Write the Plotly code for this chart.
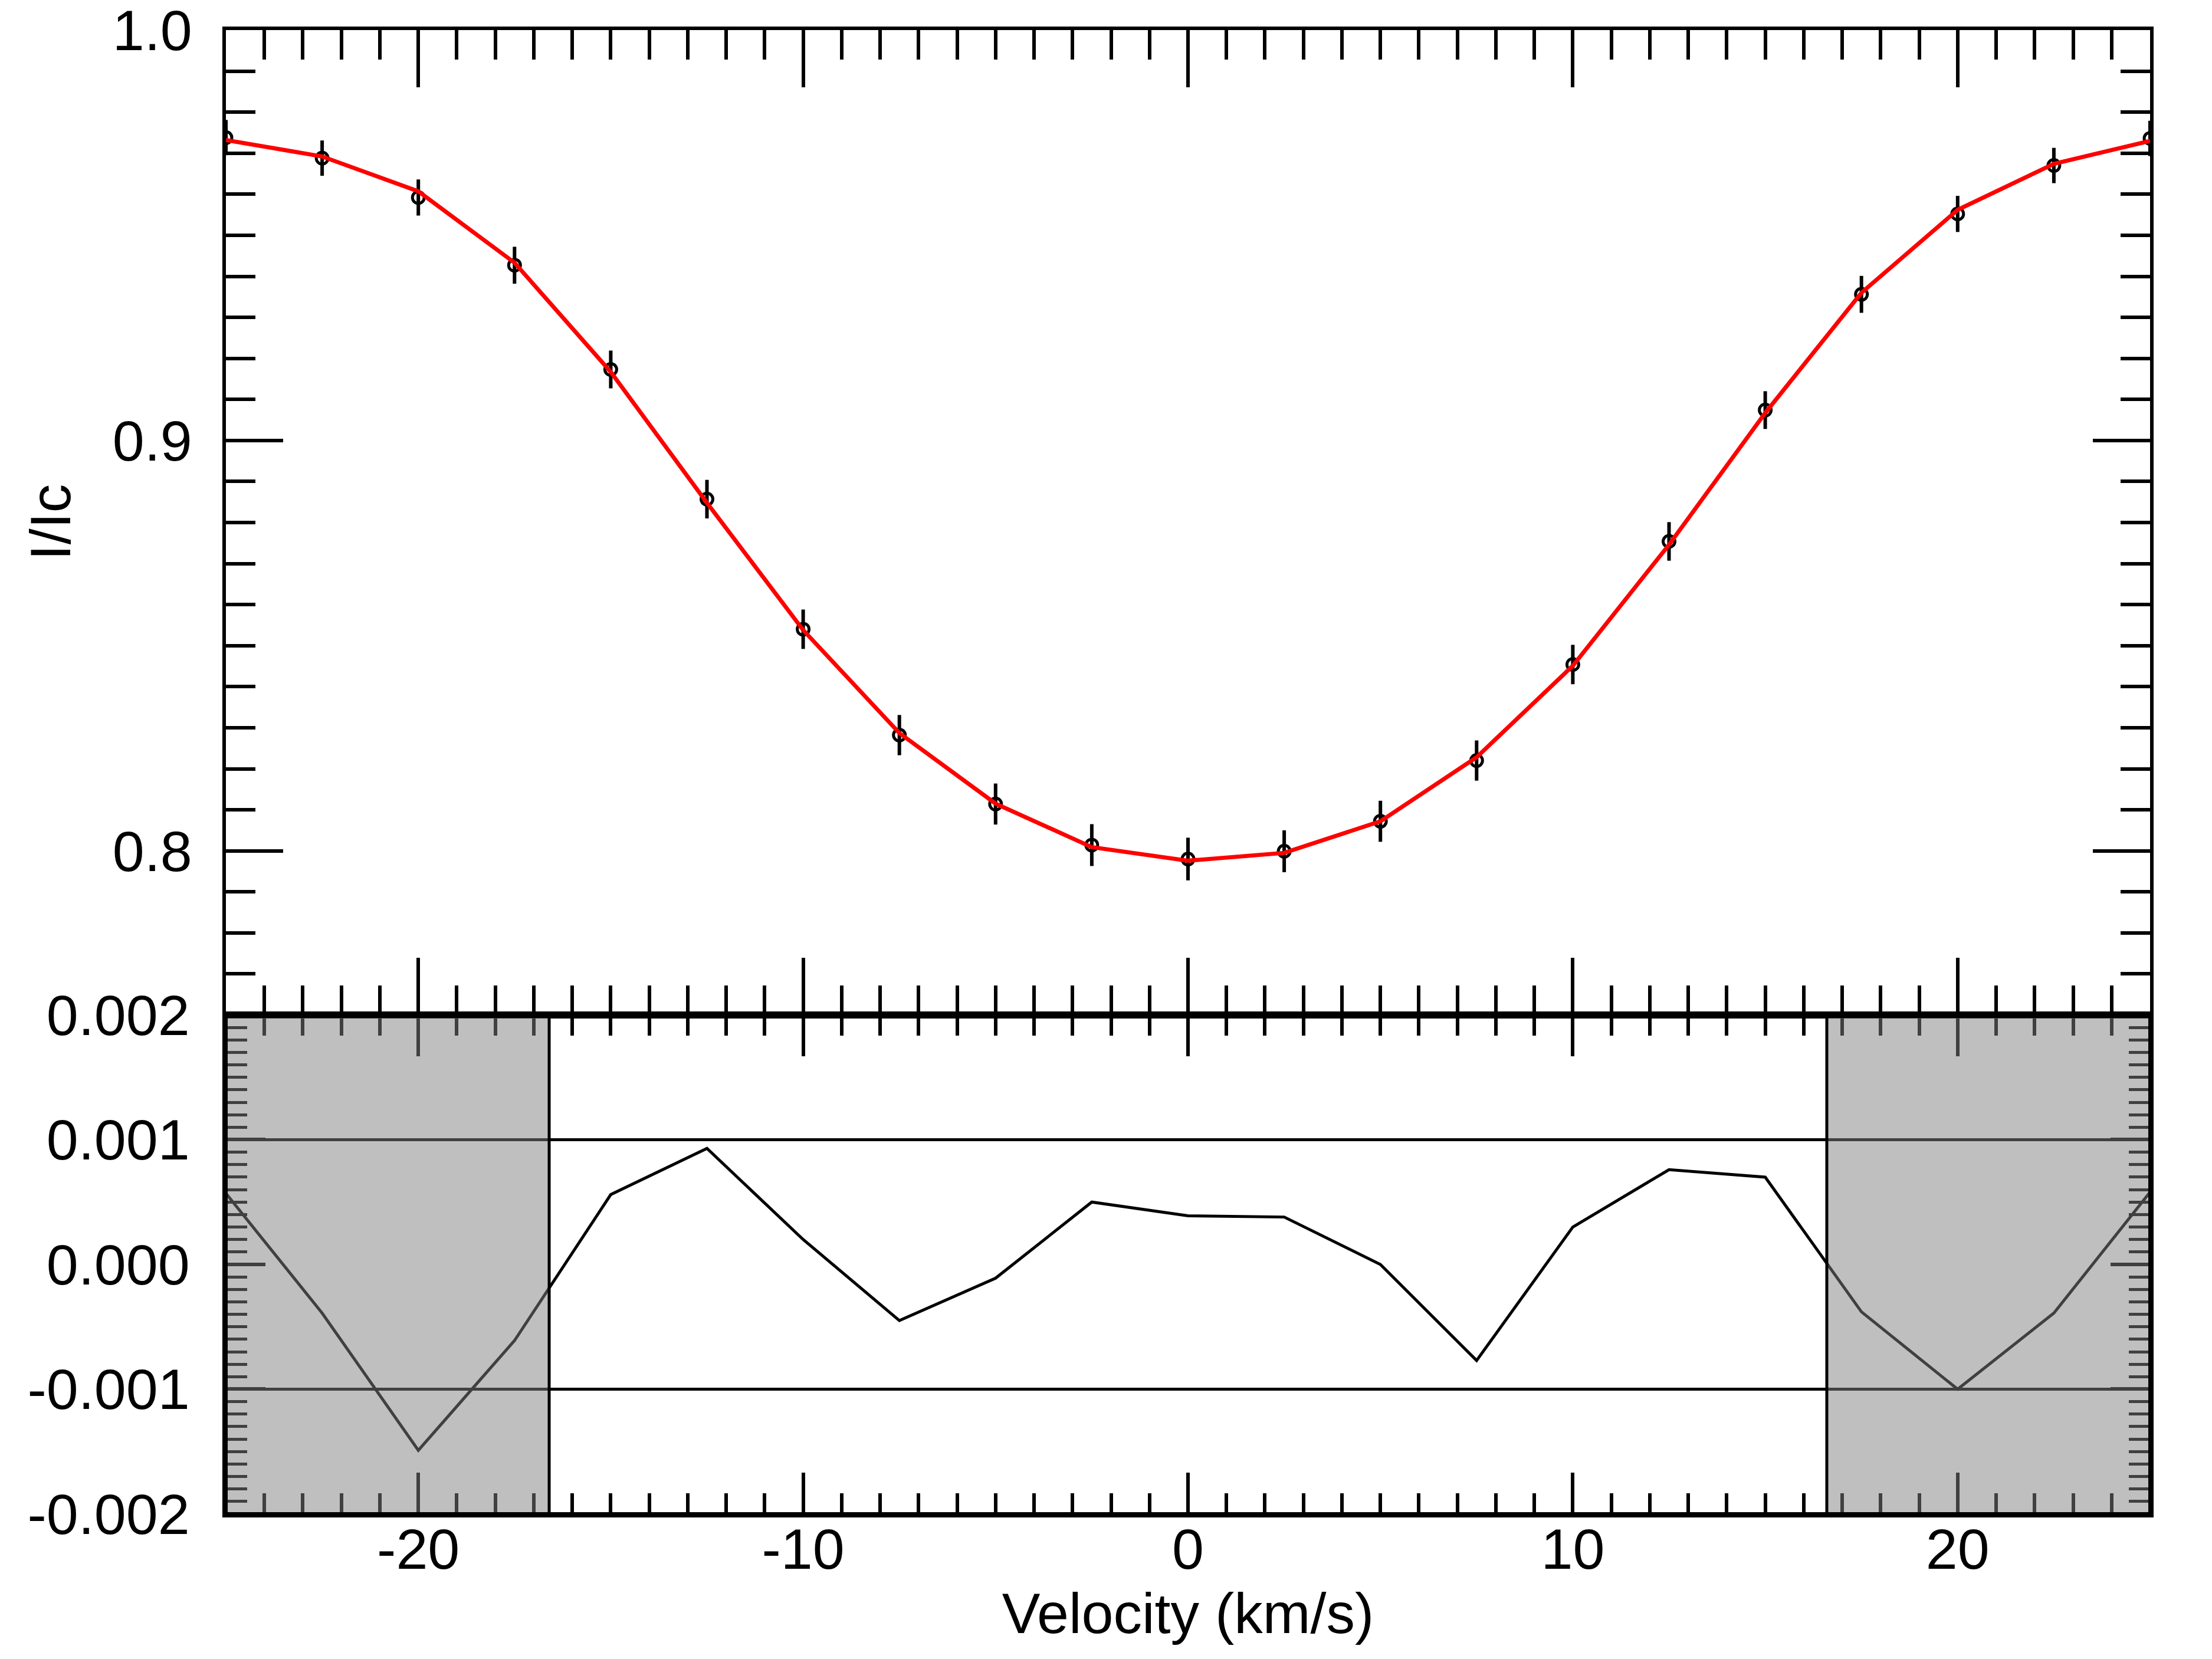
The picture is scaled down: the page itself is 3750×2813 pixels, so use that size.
import plotly.graph_objects as go

# velocity grid of the LSD profile (km/s)
VELOCITY = [-25, -22.5, -20, -17.5, -15, -12.5, -10, -7.5, -5, -2.5, 0,
            2.5, 5, 7.5, 10, 12.5, 15, 17.5, 20, 22.5, 25]

# observed Stokes I profile and its errors
I_OBS = [0.9738, 0.9688, 0.9592, 0.9427, 0.9173, 0.8857, 0.8540, 0.8282,
         0.8114, 0.8014, 0.7980, 0.7999, 0.8072, 0.8220, 0.8454, 0.8754,
         0.9074, 0.9356, 0.9552, 0.9670, 0.9736]
I_ERR = [0.0043, 0.0043, 0.0044, 0.0045, 0.0046, 0.0047, 0.0048, 0.0049,
         0.0050, 0.0051, 0.0052, 0.0051, 0.0050, 0.0049, 0.0048, 0.0047,
         0.0046, 0.0045, 0.0044, 0.0043, 0.0043]

# model fit (red)
I_MODEL = [0.9732, 0.9692, 0.9607, 0.9433, 0.9167, 0.8848, 0.8538, 0.8287,
           0.8115, 0.8009, 0.7976, 0.7995, 0.8072, 0.8228, 0.8451, 0.8746,
           0.9067, 0.9360, 0.9562, 0.9674, 0.9730]

# residuals obs - model
RESID = [0.00057, -0.00039, -0.00149, -0.00061, 0.00056, 0.00093, 0.00020,
         -0.00045, -0.00011, 0.00050, 0.00039, 0.00038, 0.00000, -0.00077,
         0.00030, 0.00076, 0.00070, -0.00038, -0.00100, -0.00039, 0.00058]

RESID_LIMITS = [-0.001, 0.001]
MASK_EDGES = [-16.6, 16.6]
V_RANGE = [-25, 25]

X_TICKS = [-20, -10, 0, 10, 20]
X_LABELS = ["-20", "-10", "0", "10", "20"]
Y1_TICKS = [0.8, 0.9, 1.0]
Y1_LABELS = ["0.8", "0.9", "1.0"]
Y2_TICKS = [-0.002, -0.001, 0.0, 0.001, 0.002]
Y2_LABELS = ["-0.002", "-0.001", "0.000", "0.001", "0.002"]

FONT = "Liberation Sans, Arial, Helvetica, sans-serif"
SPLIT = 0.33625

fig = go.Figure()

fig.add_trace(go.Scatter(
    x=VELOCITY, y=I_OBS, mode="markers",
    marker=dict(symbol="circle-open", size=20, color="black",
                line=dict(width=5, color="black")),
    error_y=dict(type="data", array=I_ERR, visible=True,
                 thickness=6, width=0, color="black"),
    xaxis="x", yaxis="y", showlegend=False))

fig.add_trace(go.Scatter(
    x=VELOCITY, y=I_MODEL, mode="lines",
    line=dict(color="#ff0000", width=7),
    xaxis="x", yaxis="y", showlegend=False))

fig.add_trace(go.Scatter(
    x=VELOCITY, y=RESID, mode="lines",
    line=dict(color="black", width=5),
    xaxis="x2", yaxis="y2", showlegend=False))

axis_common = dict(showline=True, linecolor="black", linewidth=6,
                   mirror="allticks", ticks="inside", tickcolor="black",
                   tickwidth=6, showgrid=False, zeroline=False,
                   automargin=False, ticklabeloverflow="allow",
                   tickfont=dict(family=FONT, size=97, color="black"))

fig.update_layout(
    width=3750, height=2813,
    margin=dict(l=375, r=113, t=43, b=254),
    paper_bgcolor="white", plot_bgcolor="white",
    font=dict(family=FONT, size=97, color="black"),
    xaxis=dict(axis_common, anchor="y", range=V_RANGE, domain=[0, 1],
               tickmode="array", tickvals=X_TICKS, ticktext=X_LABELS,
               showticklabels=False, ticklen=97,
               minor=dict(ticks="inside", dtick=1, tick0=0, ticklen=50,
                          tickwidth=6, tickcolor="black")),
    yaxis=dict(axis_common, anchor="x", range=[0.76, 1.0], domain=[SPLIT, 1],
               tickmode="array", tickvals=Y1_TICKS, ticktext=Y1_LABELS,
               ticklen=97, ticklabelstandoff=32,
               minor=dict(ticks="inside", dtick=0.01, tick0=0, ticklen=50,
                          tickwidth=6, tickcolor="black")),
    xaxis2=dict(axis_common, anchor="y2", range=V_RANGE, domain=[0, 1],
                tickmode="array", tickvals=X_TICKS, ticktext=X_LABELS,
                ticklen=70, ticklabelstandoff=-29,
                minor=dict(ticks="inside", dtick=1, tick0=0, ticklen=35,
                           tickwidth=6, tickcolor="black"),
                title=dict(text="Velocity (km/s)", standoff=10,
                           font=dict(family=FONT, size=97, color="black"))),
    yaxis2=dict(axis_common, anchor="x2", range=[-0.002, 0.002],
                domain=[0, SPLIT],
                tickmode="array", tickvals=Y2_TICKS, ticktext=Y2_LABELS,
                ticklen=67, ticklabelstandoff=36,
                minor=dict(ticks="inside", dtick=0.0001, tick0=0, ticklen=36,
                           tickwidth=5, tickcolor="black")),
)

# y title of the upper panel, centred on that panel
fig.add_annotation(text="I/Ic", textangle=-90, xref="paper", yref="paper",
                   x=-0.091, xanchor="center", y=(1 + SPLIT) / 2,
                   yanchor="middle", showarrow=False,
                   font=dict(family=FONT, size=97, color="black"))

# residual tolerance lines
for lim in RESID_LIMITS:
    fig.add_shape(type="line", xref="x2 domain", yref="y2", x0=0, x1=1,
                  y0=lim, y1=lim, line=dict(color="black", width=5),
                  layer="below")

# grey masks over the line wings
fig.add_shape(type="rect", xref="x2", yref="y2 domain",
              x0=V_RANGE[0], x1=MASK_EDGES[0], y0=0, y1=1,
              fillcolor="rgba(127,127,127,0.5)", line=dict(width=0),
              layer="above")
fig.add_shape(type="rect", xref="x2", yref="y2 domain",
              x0=MASK_EDGES[1], x1=V_RANGE[1], y0=0, y1=1,
              fillcolor="rgba(127,127,127,0.5)", line=dict(width=0),
              layer="above")
for edge in MASK_EDGES:
    fig.add_shape(type="line", xref="x2", yref="y2 domain",
                  x0=edge, x1=edge, y0=0, y1=1,
                  line=dict(color="black", width=5), layer="above")

# redraw the frame of the lower panel on top of the masks
frame = [(0, 0, 0, 1, 6), (1, 0, 1, 1, 6), (0, 0, 1, 0, 6), (0, 1, 1, 1, 10)]
for x0, y0, x1, y1, w in frame:
    fig.add_shape(type="line", xref="x2 domain", yref="y2 domain",
                  x0=x0, y0=y0, x1=x1, y1=y1,
                  line=dict(color="black", width=w), layer="above")

fig.write_html("out.html")
